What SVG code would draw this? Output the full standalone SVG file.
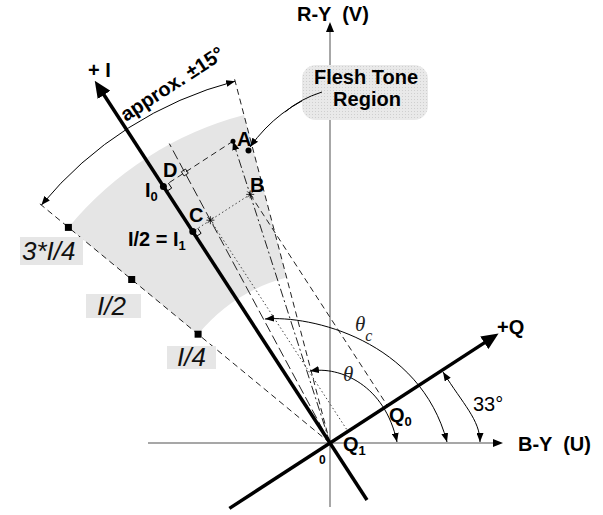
<svg xmlns="http://www.w3.org/2000/svg" width="603" height="515" viewBox="0 0 603 515">
<defs>
<style>
.lbl{font-family:"Liberation Sans",Arial,sans-serif;font-weight:bold;font-size:20px;fill:#000}
.sub{font-size:13px}
.it{font-family:"Liberation Sans",Arial,sans-serif;font-style:italic;font-size:26px;fill:#111}
.gr{font-family:"Liberation Serif","Times New Roman",serif;font-style:italic;fill:#222}
.thin{fill:none;stroke:#000;stroke-width:1}
.dash{fill:none;stroke:#222;stroke-width:1;stroke-dasharray:6 4}
.ldash{fill:none;stroke:#222;stroke-width:1;stroke-dasharray:10 4}
.dot{fill:none;stroke:#444;stroke-width:1;stroke-dasharray:1.5 2.5}
.dashdot{fill:none;stroke:#222;stroke-width:1;stroke-dasharray:9 3 2 3}
.axis{stroke:#8a8a8a;stroke-width:1.5}
.thick{stroke:#000;stroke-width:3.5}
.box{fill:#e6e6e6}
</style>
<marker id="bigArrow" markerUnits="userSpaceOnUse" markerWidth="17" markerHeight="15" refX="5" refY="7.5" orient="auto"><path d="M0,0 L17,7.5 L0,15 z" fill="#000"/></marker>
<marker id="axArrow" markerUnits="userSpaceOnUse" markerWidth="10" markerHeight="8" refX="4" refY="4" orient="auto"><path d="M0,0 L10,4 L0,8 z" fill="#000"/></marker>
<marker id="sm" markerUnits="userSpaceOnUse" markerWidth="9" markerHeight="7" refX="9" refY="3.5" orient="auto-start-reverse"><path d="M0,0 L9,3.5 L0,7 z" fill="#000"/></marker>
<g id="star"><path d="M-4,0H4M0,-4V4M-3,-3L3,3M-3,3L3,-3" stroke="#000" stroke-width="0.8" fill="none"/></g>
<pattern id="stipple" width="3" height="3" patternUnits="userSpaceOnUse"><rect width="3" height="3" fill="#e9e9e9"/><rect width="1" height="1" fill="#cfcfcf"/></pattern>
</defs>
<rect width="603" height="515" fill="#fff"/>

<g id="flesh-sector">
<path d="M244.0,115.1 A339,339 0 0,0 68.4,227.4 L198.1,334.2 A171,171 0 0,1 286.6,277.6 Z" fill="#e5e5e5"/>
</g>

<g id="axes">
<line class="axis" x1="330" y1="507" x2="330" y2="28" marker-end="url(#axArrow)"/>
<line class="axis" x1="148" y1="443" x2="497" y2="443" marker-end="url(#axArrow)"/>
</g>

<g id="connectors">
<line class="dash" x1="330" y1="443" x2="36.8" y2="201.3"/>
<line class="dash" x1="330" y1="443" x2="233.6" y2="75.4"/>
<path class="thin" d="M235.1,81.2 A374,374 0 0,0 41.4,205.1" marker-start="url(#sm)" marker-end="url(#sm)"/>
<line class="dashdot" x1="330" y1="443" x2="233" y2="141.2" marker-end="url(#sm)"/>
<line class="ldash" x1="330" y1="443" x2="169.3" y2="143.6"/>
<line class="dash" x1="250.2" y1="194.4" x2="387.4" y2="405.7"/>
<line class="dot" x1="210.4" y1="220.2" x2="347.9" y2="431.3"/>
<line class="dash" x1="233" y1="141.2" x2="163.4" y2="186.4"/>
<line class="dot" x1="250.2" y1="194.4" x2="192.8" y2="231.6"/>
<polyline class="thin" stroke-width="0.8" points="168.4,183.1 171.7,188.1 166.7,191.4"/>
<polyline class="thin" stroke-width="0.8" points="197.8,228.3 201.1,233.3 196.1,236.6"/>
<path class="thin" d="M265,319 C310,315 420,340 447,442" marker-start="url(#sm)" marker-end="url(#sm)"/>
<path class="thin" d="M310,371 C340,366 385,385 397,442" marker-start="url(#sm)" marker-end="url(#sm)"/>
<path class="thin" d="M443,372 C463,404 480,420 480,442" marker-start="url(#sm)" marker-end="url(#sm)"/>
<path class="thin" d="M322,92 Q278,108 250,147" marker-end="url(#sm)"/>
</g>

<g id="axis-I">
<line class="thick" x1="367" y1="500" x2="101.3" y2="90.7" marker-end="url(#bigArrow)"/>
<text class="lbl" x="88" y="77">+ I</text>
</g>
<g id="axis-Q">
<line class="thick" x1="229.4" y1="508.4" x2="488.5" y2="340.1" marker-end="url(#bigArrow)"/>
<text class="lbl" x="497" y="334">+Q</text>
</g>

<g id="markers">
<rect x="194.6" y="330.7" width="7" height="7"/>
<rect x="128.2" y="276" width="7" height="7"/>
<rect x="64.9" y="223.9" width="7" height="7"/>
<circle cx="233" cy="141.2" r="2.5"/>
<circle cx="248.5" cy="150.5" r="3"/>
<circle cx="163.4" cy="186.4" r="3.5"/>
<circle cx="192.8" cy="231.6" r="3.5"/>
<use href="#star" x="250.2" y="194.4"/>
<use href="#star" x="210.4" y="220.2"/>
<rect x="-2.5" y="-2.5" width="5" height="5" fill="none" stroke="#000" stroke-width="0.8" transform="translate(184.8,172.5) rotate(-33)"/>
</g>

<g id="callout">
<rect x="302" y="65" width="126" height="55" rx="14" fill="url(#stipple)"/>
<text class="lbl" x="366" y="84" text-anchor="middle">Flesh Tone</text>
<text class="lbl" x="367" y="106" text-anchor="middle">Region</text>
<path class="thin" d="M322,92 Q300,99 285,112"/>
</g>

<g id="labels">
<text class="lbl" x="297" y="21" xml:space="preserve">R-Y  (V)</text>
<text class="lbl" x="518" y="451" xml:space="preserve">B-Y  (U)</text>
<text class="lbl" transform="translate(126,122) rotate(-33)">approx. ±15°</text>
<text class="lbl" x="237" y="146">A</text>
<text class="lbl" x="250" y="192">B</text>
<text class="lbl" x="189" y="222">C</text>
<text class="lbl" x="163" y="177">D</text>
<text class="lbl" x="145" y="197">I<tspan class="sub" dy="4">0</tspan></text>
<text class="lbl" x="128" y="246" xml:space="preserve">I/2 = I<tspan class="sub" dy="4">1</tspan></text>
<text class="lbl" x="389" y="422">Q<tspan class="sub" dy="4">0</tspan></text>
<text class="lbl" x="343" y="451">Q<tspan class="sub" dy="4">1</tspan></text>
<text class="lbl" x="319" y="464" style="font-size:12px">0</text>
<text class="gr" x="355" y="331" style="font-size:21px">θ<tspan dy="10" style="font-size:16px">c</tspan></text>
<text class="gr" x="343" y="381" style="font-size:21px">θ</text>
<text x="473" y="411" style="font-family:'Liberation Sans',Arial,sans-serif;font-size:20px">33°</text>
</g>

<g id="scale-labels">
<rect class="box" x="20" y="237" width="63" height="28"/>
<text class="it" x="22" y="260">3*I/4</text>
<rect class="box" x="86" y="294" width="55" height="24"/>
<text class="it" x="97" y="315">I/2</text>
<rect class="box" x="167" y="346" width="49" height="23"/>
<text class="it" x="177" y="366">I/4</text>
</g>
</svg>
